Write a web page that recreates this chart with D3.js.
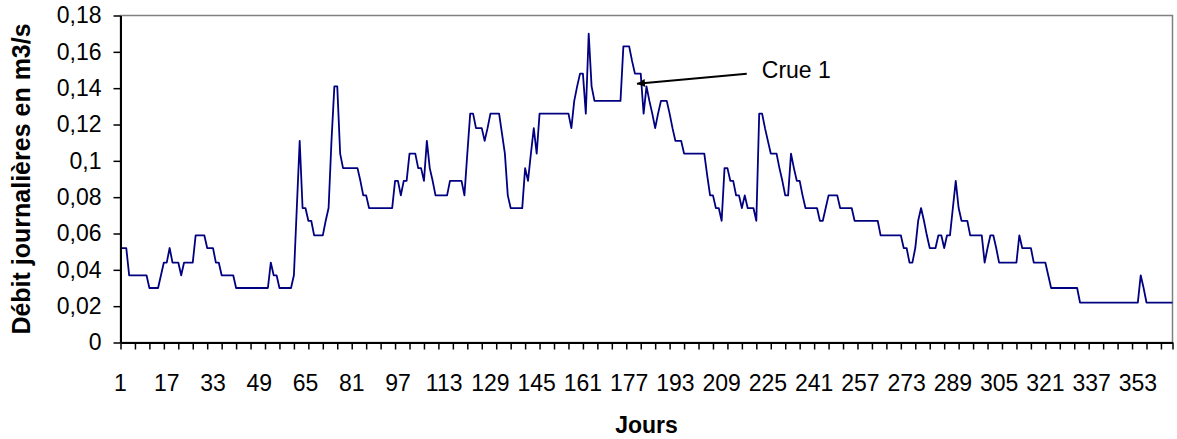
<!DOCTYPE html>
<html>
<head>
<meta charset="utf-8">
<script src="https://cdn.jsdelivr.net/npm/d3@7"></script>
<style>
  html, body { margin: 0; padding: 0; background: #fff; }
  svg text { font-family: "Liberation Sans", Arial, sans-serif; fill: #000; }
</style>
</head>
<body>
<svg id="chart" width="1177" height="439"></svg>
<script>
// débit journalier (m3/s), jours 1 à 100
const debitA = [
  .052,.052,.052,.037,.037,.037,.037,.037,.037,.037,
  .030,.030,.030,.030,.037,.044,.044,.052,.044,.044,
  .044,.037,.044,.044,.044,.044,.059,.059,.059,.059,
  .052,.052,.052,.044,.044,.037,.037,.037,.037,.037,
  .030,.030,.030,.030,.030,.030,.030,.030,.030,.030,
  .030,.030,.044,.037,.037,.030,.030,.030,.030,.030,
  .037,.074,.111,.074,.074,.067,.067,.059,.059,.059,
  .059,.067,.074,.111,.141,.141,.104,.096,.096,.096,
  .096,.096,.096,.089,.081,.081,.074,.074,.074,.074,
  .074,.074,.074,.074,.074,.089,.089,.081,.089,.089
];
// jours 101 à 200
const debitB = [
  .104,.104,.104,.096,.096,.089,.111,.096,.089,.081,
  .081,.081,.081,.081,.089,.089,.089,.089,.089,.081,
  .104,.126,.126,.118,.118,.118,.111,.118,.126,.126,
  .126,.126,.115,.104,.081,.074,.074,.074,.074,.074,
  .096,.089,.104,.118,.104,.126,.126,.126,.126,.126,
  .126,.126,.126,.126,.126,.126,.118,.133,.141,.148,
  .148,.126,.170,.141,.133,.133,.133,.133,.133,.133,
  .133,.133,.133,.133,.163,.163,.163,.155,.148,.148,
  .148,.126,.141,.133,.126,.118,.126,.133,.133,.133,
  .126,.118,.111,.111,.111,.104,.104,.104,.104,.104
];
// jours 201 à 300
const debitC = [
  .104,.104,.104,.092,.081,.081,.074,.074,.067,.096,
  .096,.089,.089,.081,.081,.074,.081,.074,.074,.074,
  .067,.126,.126,.118,.111,.104,.104,.104,.096,.089,
  .081,.081,.104,.096,.089,.089,.081,.074,.074,.074,
  .074,.074,.067,.067,.074,.081,.081,.081,.081,.074,
  .074,.074,.074,.074,.067,.067,.067,.067,.067,.067,
  .067,.067,.067,.059,.059,.059,.059,.059,.059,.059,
  .059,.052,.052,.044,.044,.052,.067,.074,.067,.059,
  .052,.052,.052,.059,.059,.052,.059,.059,.074,.089,
  .074,.067,.067,.067,.059,.059,.059,.059,.059,.044
];
// jours 301 à 365
const debitD = [
  .052,.059,.059,.052,.044,.044,.044,.044,.044,.044,
  .044,.059,.052,.052,.052,.052,.044,.044,.044,.044,
  .044,.037,.030,.030,.030,.030,.030,.030,.030,.030,
  .030,.030,.022,.022,.022,.022,.022,.022,.022,.022,
  .022,.022,.022,.022,.022,.022,.022,.022,.022,.022,
  .022,.022,.022,.037,.030,.022,.022,.022,.022,.022,
  .022,.022,.022,.022,.022
];

const xTickLabels = [1, 17, 33, 49, 65, 81, 97, 113, 129, 145, 161, 177, 193, 209, 225, 241, 257, 273, 289, 305, 321, 337, 353];
const yTicks = [0, 0.02, 0.04, 0.06, 0.08, 0.1, 0.12, 0.14, 0.16, 0.18];

const crue = { label: "Crue 1", jourPointe: 179.7, debitPointe: 0.1424, jourDepart: 217.7, debitDepart: 0.1479, jourTexte: 222.9, debitTexte: 0.1455 };

const debit = debitA.concat(debitB, debitC, debitD);
const jours = d3.range(1, debit.length + 1);

const plotLeft = 120.5, plotRight = 1172.5, plotTop = 15.5, plotBottom = 342.5;

const svg = d3.select("#chart");

const x = d3.scaleLinear().domain([1, jours.length]).range([plotLeft, plotRight]);
const y = d3.scaleLinear().domain([0, 0.18]).range([plotBottom, plotTop]);

// cadre de la zone de tracé (haut et droite gris)
svg.append("rect")
  .attr("x", plotLeft).attr("y", plotTop)
  .attr("width", plotRight - plotLeft).attr("height", plotBottom - plotTop)
  .attr("fill", "none")
  .attr("stroke", "#808080")
  .attr("stroke-width", 1.5);

// courbe
const line = d3.line()
  .x((d, i) => x(jours[i]))
  .y(d => y(d));

svg.append("path")
  .datum(debit)
  .attr("d", line)
  .attr("fill", "none")
  .attr("stroke", "#000080")
  .attr("stroke-width", 1.8)
  .attr("stroke-linejoin", "round");

// axe Y
const fmt = d => String(+d.toFixed(2)).replace(".", ",");
const yAxis = svg.append("g")
  .attr("transform", `translate(${plotLeft},0)`)
  .call(d3.axisLeft(y).tickValues(yTicks).tickSize(7).tickSizeOuter(0).tickPadding(12).tickFormat(fmt));
yAxis.select(".domain").attr("stroke", "#000").attr("stroke-width", 2);
yAxis.selectAll(".tick line").attr("stroke", "#000").attr("stroke-width", 1.5);
yAxis.selectAll("text").attr("font-size", 23).attr("font-family", "Liberation Sans, Arial, sans-serif");

// axe X : graduations tous les 5 jours, étiquettes tous les 16 jours
const tickDays = d3.range(1, jours.length + 1, 5).concat([jours.length]);
const xAxis = svg.append("g")
  .attr("transform", `translate(0,${plotBottom})`)
  .call(d3.axisBottom(x).tickValues(tickDays).tickSize(7).tickSizeOuter(0).tickFormat(""));
xAxis.select(".domain").attr("stroke", "#000").attr("stroke-width", 2);
xAxis.selectAll(".tick line").attr("stroke", "#000").attr("stroke-width", 1.5);

svg.append("g").selectAll("text")
  .data(xTickLabels)
  .join("text")
  .attr("x", d => x(d))
  .attr("y", 391)
  .attr("text-anchor", "middle")
  .attr("font-size", 23)
  .text(d => d);

// titres des axes
svg.append("text")
  .attr("x", (plotLeft + plotRight) / 2)
  .attr("y", 433)
  .attr("text-anchor", "middle")
  .attr("font-size", 23)
  .attr("font-weight", "bold")
  .text("Jours");

svg.append("text")
  .attr("transform", `translate(30,${(plotTop + plotBottom) / 2}) rotate(-90)`)
  .attr("text-anchor", "middle")
  .attr("font-size", 25)
  .attr("font-weight", "bold")
  .text("Débit journalières en m3/s");

// annotation "Crue 1"
svg.append("defs").append("marker")
  .attr("id", "fleche")
  .attr("viewBox", "0 0 10 10")
  .attr("refX", 10).attr("refY", 5)
  .attr("markerWidth", 11).attr("markerHeight", 8)
  .attr("markerUnits", "userSpaceOnUse")
  .attr("orient", "auto")
  .append("path")
  .attr("d", "M0,0L10,5L0,10Z")
  .attr("fill", "#000");

svg.append("line")
  .attr("x1", x(crue.jourDepart)).attr("y1", y(crue.debitDepart))
  .attr("x2", x(crue.jourPointe)).attr("y2", y(crue.debitPointe))
  .attr("stroke", "#000")
  .attr("stroke-width", 2)
  .attr("marker-end", "url(#fleche)");

svg.append("text")
  .attr("x", x(crue.jourTexte))
  .attr("y", y(crue.debitTexte))
  .attr("font-size", 23)
  .text(crue.label);
</script>
</body>
</html>
